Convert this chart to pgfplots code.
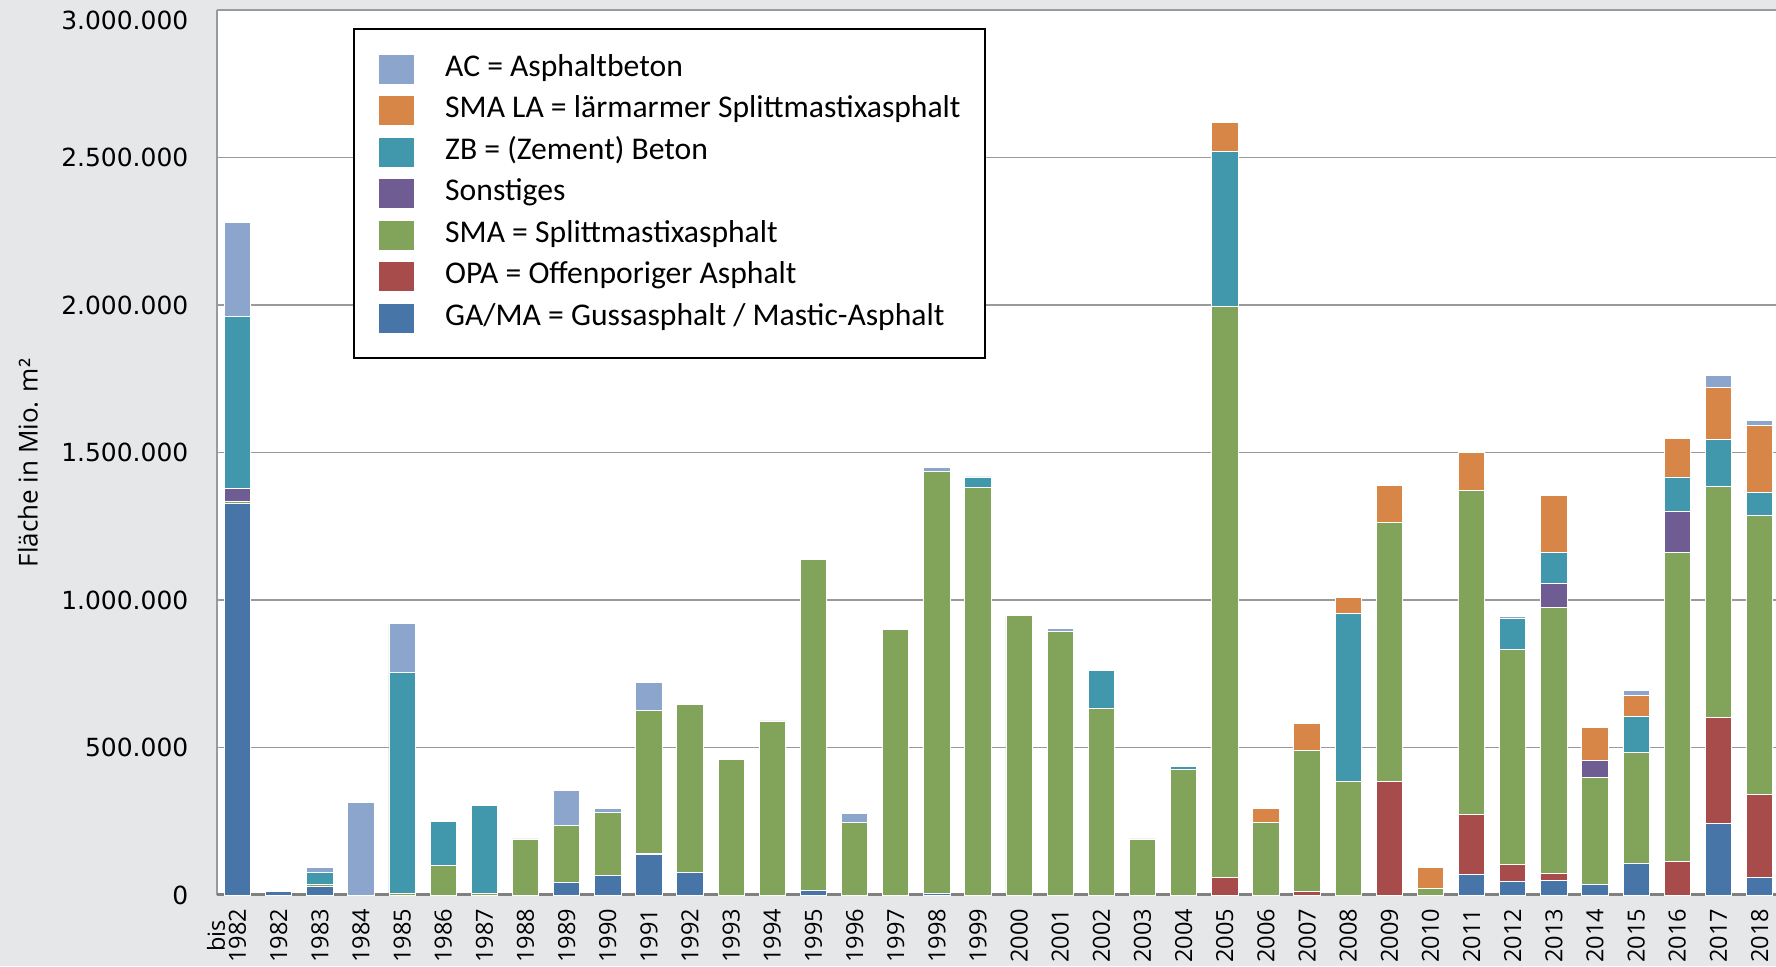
\documentclass[border=0pt]{standalone}
\usepackage{pgfplots}
\pgfplotsset{compat=1.18}
\usepackage{pgfplotstable}
\usepackage{fontspec}
\newfontfamily\tickfont{DejaVu Sans}
\newfontfamily\xfont{Open Sans}
\newfontfamily\legfont{Carlito}
\definecolor{cAC}{HTML}{8BA5CC}
\definecolor{cLA}{HTML}{D88548}
\definecolor{cZB}{HTML}{4197AC}
\definecolor{cSO}{HTML}{6F5C92}
\definecolor{cSMA}{HTML}{82A45A}
\definecolor{cOPA}{HTML}{A84B4B}
\definecolor{cGA}{HTML}{4775A7}
\definecolor{bg}{HTML}{E6E7E9}
\definecolor{gridc}{HTML}{9A9A9A}
\pgfplotsset{legsw/.style={legend image code/.code={\fill[##1] (0cm,-0.15cm) rectangle (0.36cm,0.15cm);}}}
\pgfplotstableread{
x ga opa sma son zb la ac
0 1327000 0 8000 44000 583000 0 318000
1 12000 0 0 0 0 0 0
2 28000 0 9000 0 38000 0 18000
3 0 0 0 0 0 0 314000
4 0 0 7000 0 746000 0 166000
5 0 0 99000 0 150000 0 0
6 0 0 7000 0 297000 0 0
7 0 0 190000 0 0 0 0
8 43000 0 193000 0 0 0 119000
9 65000 0 214000 0 0 0 15000
10 136000 6000 485000 0 0 0 92000
11 78000 0 568000 0 0 0 0
12 0 0 458000 0 0 0 0
13 0 0 590000 0 0 0 0
14 15000 0 1124000 0 0 0 0
15 0 0 246000 0 0 0 30000
16 0 0 900000 0 0 0 0
17 7000 0 1429000 0 0 0 12000
18 0 0 1381000 0 36000 0 0
19 0 0 948000 0 0 0 0
20 0 0 894000 0 0 0 10000
21 0 0 633000 0 129000 0 0
22 0 0 190000 0 0 0 0
23 0 0 424000 0 11000 0 0
24 0 59000 1935000 0 525000 100000 0
25 0 0 246000 0 0 48000 0
26 0 11000 480000 0 0 90000 0
27 0 0 386000 0 567000 55000 0
28 0 386000 878000 0 0 124000 0
29 0 0 22000 0 0 71000 0
30 69000 204000 1099000 0 0 128000 0
31 47000 58000 727000 0 104000 0 8000
32 49000 24000 903000 81000 103000 195000 0
33 36000 0 364000 56000 0 111000 0
34 108000 0 376000 0 121000 72000 16000
35 0 113000 1047000 139000 118000 130000 0
36 244000 359000 781000 0 160000 175000 42000
37 61000 280000 947000 0 77000 228000 16000
}\data
\begin{document}
\begin{tikzpicture}
\fill[bg] (-2.17cm,-0.71cm) rectangle (15.59cm,8.95cm);
\useasboundingbox (-2.17cm,-0.71cm) rectangle (15.59cm,8.95cm);
\begin{axis}[
  at={(0,0)}, anchor=south west,
  scale only axis, width=15.59cm, height=8.85cm,
  ybar stacked, bar width=0.64,
  xmin=-0.5, xmax=37.4, ymin=0, ymax=3000000,
  axis background/.style={fill=white},
  xtick={0,...,37},
  xticklabels={{\makebox[0pt][l]{\raisebox{0.9em}[0pt][0pt]{\hphantom{19}\makebox[0pt][c]{bis}}}1982},1982,1983,1984,1985,1986,1987,1988,1989,1990,1991,1992,1993,1994,1995,1996,1997,1998,1999,2000,2001,2002,2003,2004,2005,2006,2007,2008,2009,2010,2011,2012,2013,2014,2015,2016,2017,2018},
  ytick={0,500000,1000000,1500000,2000000,2500000,3000000},
  yticklabels={0,500.000,1.000.000,1.500.000,2.000.000,2.500.000,{\raisebox{-0.19cm}[0pt][0pt]{3.000.000}}},
  major tick length=0pt, tick style={draw=none},
  xticklabel style={font=\xfont\fontsize{6.7}{8}\selectfont, rotate=90, anchor=east, inner sep=0pt, xshift=-0.13cm},
  yticklabel style={font=\tickfont\fontsize{7.1}{8.5}\selectfont, anchor=east, inner sep=0pt, xshift=-0.28cm},
  ymajorgrids, grid style={gridc, line width=0.45pt},
  axis x line*=bottom, axis y line*=left,
  x axis line style={draw=none},
  y axis line style={gridc, line width=0.4pt},
  ylabel={Fläche in Mio. m²},
  ylabel style={font=\xfont\fontsize{7.4}{9}\selectfont, at={(axis description cs:-0.1212,0.488)}, anchor=center},
  reverse legend,
  legend cell align=left,
  legend style={font=\legfont\fontsize{9}{10}\selectfont, draw=black, line width=0.5pt, fill=white,
    at={(axis description cs:0.0872,0.9797)}, anchor=north west,
    inner xsep=0.24cm, inner ysep=0.195cm, row sep=0pt, column sep=0.305cm,
    nodes={inner sep=0pt, minimum height=0.415cm, text height=0.2cm, text depth=0.06cm}},
]
\addplot[fill=cGA, draw=white, line width=0.25pt, legsw] table[x=x,y=ga]{\data};
\addplot[fill=cOPA, draw=white, line width=0.25pt, legsw] table[x=x,y=opa]{\data};
\addplot[fill=cSMA, draw=white, line width=0.25pt, legsw] table[x=x,y=sma]{\data};
\addplot[fill=cSO, draw=white, line width=0.25pt, legsw] table[x=x,y=son]{\data};
\addplot[fill=cZB, draw=white, line width=0.25pt, legsw] table[x=x,y=zb]{\data};
\addplot[fill=cLA, draw=white, line width=0.25pt, legsw] table[x=x,y=la]{\data};
\addplot[fill=cAC, draw=white, line width=0.25pt, legsw] table[x=x,y=ac]{\data};
\legend{GA/MA = Gussasphalt / Mastic-Asphalt, OPA = Offenporiger Asphalt, SMA = Splittmastixasphalt, Sonstiges, ZB = (Zement) Beton, SMA LA = lärmarmer Splittmastixasphalt, AC = Asphaltbeton}
\draw[color=gray, line width=0.9pt] (axis cs:-0.5,0) -- (axis cs:37.4,0);
\end{axis}
\end{tikzpicture}
\end{document}
